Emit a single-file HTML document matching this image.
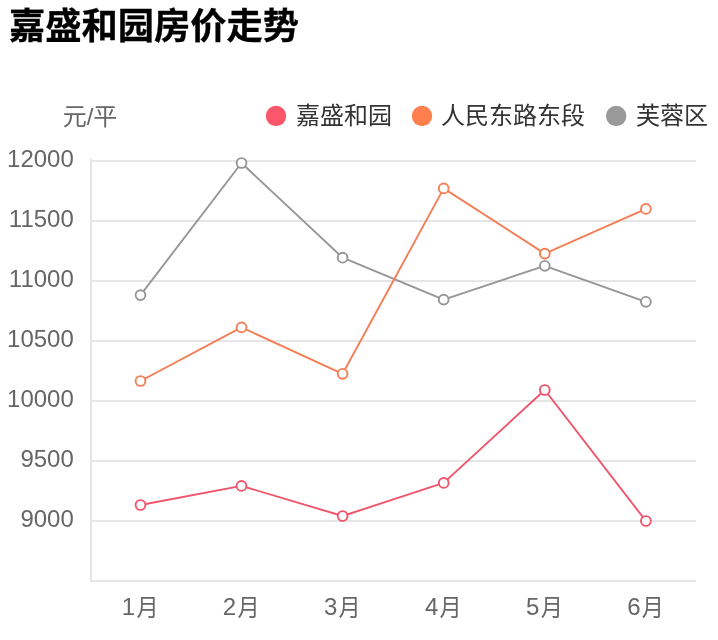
<!DOCTYPE html>
<html lang="zh-CN">
<head>
<meta charset="utf-8">
<title>嘉盛和园房价走势</title>
<style>
html,body{margin:0;padding:0;background:#fff;}
body{width:718px;height:640px;overflow:hidden;position:relative;font-family:"Liberation Sans","Noto Sans CJK SC",sans-serif;}
h1{position:absolute;left:9px;top:0.8px;margin:0;font-size:36.25px;line-height:52px;font-weight:bold;color:#000;white-space:nowrap;-webkit-text-stroke:0.3px #000;}
svg{position:absolute;left:0;top:0;}
svg text{font-family:"Liberation Sans","Noto Sans CJK SC",sans-serif;}
</style>
</head>
<body>
<h1>嘉盛和园房价走势</h1>
<svg width="718" height="640" viewBox="0 0 718 640">
<g stroke="#e6e6e6" stroke-width="2" fill="none">
<line x1="91" y1="161" x2="696" y2="161"/>
<line x1="91" y1="221" x2="696" y2="221"/>
<line x1="91" y1="281" x2="696" y2="281"/>
<line x1="91" y1="341" x2="696" y2="341"/>
<line x1="91" y1="401" x2="696" y2="401"/>
<line x1="91" y1="461" x2="696" y2="461"/>
<line x1="91" y1="521" x2="696" y2="521"/>
<line x1="91" y1="159" x2="91" y2="582"/>
<line x1="90" y1="581" x2="696" y2="581"/>
</g>
<g font-size="24" fill="#666" text-anchor="end">
<text x="73.8" y="167.2">12000</text>
<text x="73.8" y="227.2">11500</text>
<text x="73.8" y="287.2">11000</text>
<text x="73.8" y="347.2">10500</text>
<text x="73.8" y="407.2">10000</text>
<text x="73.8" y="467.2">9500</text>
<text x="73.8" y="527.2">9000</text>
</g>
<g font-size="24" fill="#666">
<text x="121.8" y="615">1</text><text x="136.4" y="615.65" textLength="22.1" lengthAdjust="spacingAndGlyphs">月</text>
<text x="222.8" y="615">2</text><text x="237.4" y="615.65" textLength="22.1" lengthAdjust="spacingAndGlyphs">月</text>
<text x="323.9" y="615">3</text><text x="338.5" y="615.65" textLength="22.1" lengthAdjust="spacingAndGlyphs">月</text>
<text x="425.0" y="615">4</text><text x="439.6" y="615.65" textLength="22.1" lengthAdjust="spacingAndGlyphs">月</text>
<text x="526.1" y="615">5</text><text x="540.7" y="615.65" textLength="22.1" lengthAdjust="spacingAndGlyphs">月</text>
<text x="627.2" y="615">6</text><text x="641.8" y="615.65" textLength="22.1" lengthAdjust="spacingAndGlyphs">月</text>
</g>
<text x="62.7" y="125.3" font-size="24" fill="#666">元/平</text>
<circle cx="276" cy="116" r="10.2" fill="#fc566b"/>
<text x="296" y="123.7" font-size="24" fill="#333">嘉盛和园</text>
<circle cx="422" cy="116" r="10.2" fill="#ff7f4f"/>
<text x="441" y="123.7" font-size="24" fill="#333">人民东路东段</text>
<circle cx="616.2" cy="116" r="10.2" fill="#999999"/>
<text x="636" y="123.7" font-size="24" fill="#333">芙蓉区</text>
<polyline points="140.5,295.1 241.5,163.0 342.6,257.7 443.7,299.6 544.8,265.8 645.9,301.8" fill="none" stroke="#969696" stroke-width="1.9" stroke-linejoin="round"/>
<circle cx="140.5" cy="295.1" r="4.9" fill="#fff" stroke="#969696" stroke-width="1.9"/>
<circle cx="241.5" cy="163.0" r="4.9" fill="#fff" stroke="#969696" stroke-width="1.9"/>
<circle cx="342.6" cy="257.7" r="4.9" fill="#fff" stroke="#969696" stroke-width="1.9"/>
<circle cx="443.7" cy="299.6" r="4.9" fill="#fff" stroke="#969696" stroke-width="1.9"/>
<circle cx="544.8" cy="265.8" r="4.9" fill="#fff" stroke="#969696" stroke-width="1.9"/>
<circle cx="645.9" cy="301.8" r="4.9" fill="#fff" stroke="#969696" stroke-width="1.9"/>
<polyline points="140.5,381.0 241.5,327.4 342.6,373.8 443.7,188.4 544.8,253.6 645.9,208.9" fill="none" stroke="#f37e55" stroke-width="1.9" stroke-linejoin="round"/>
<circle cx="140.5" cy="381.0" r="4.9" fill="#fff" stroke="#f37e55" stroke-width="1.9"/>
<circle cx="241.5" cy="327.4" r="4.9" fill="#fff" stroke="#f37e55" stroke-width="1.9"/>
<circle cx="342.6" cy="373.8" r="4.9" fill="#fff" stroke="#f37e55" stroke-width="1.9"/>
<circle cx="443.7" cy="188.4" r="4.9" fill="#fff" stroke="#f37e55" stroke-width="1.9"/>
<circle cx="544.8" cy="253.6" r="4.9" fill="#fff" stroke="#f37e55" stroke-width="1.9"/>
<circle cx="645.9" cy="208.9" r="4.9" fill="#fff" stroke="#f37e55" stroke-width="1.9"/>
<polyline points="140.5,505.0 241.5,485.9 342.6,516.0 443.7,482.9 544.8,390.0 645.9,521.0" fill="none" stroke="#f0546a" stroke-width="1.9" stroke-linejoin="round"/>
<circle cx="140.5" cy="505.0" r="4.9" fill="#fff" stroke="#f0546a" stroke-width="1.9"/>
<circle cx="241.5" cy="485.9" r="4.9" fill="#fff" stroke="#f0546a" stroke-width="1.9"/>
<circle cx="342.6" cy="516.0" r="4.9" fill="#fff" stroke="#f0546a" stroke-width="1.9"/>
<circle cx="443.7" cy="482.9" r="4.9" fill="#fff" stroke="#f0546a" stroke-width="1.9"/>
<circle cx="544.8" cy="390.0" r="4.9" fill="#fff" stroke="#f0546a" stroke-width="1.9"/>
<circle cx="645.9" cy="521.0" r="4.9" fill="#fff" stroke="#f0546a" stroke-width="1.9"/>
</svg>
</body>
</html>
